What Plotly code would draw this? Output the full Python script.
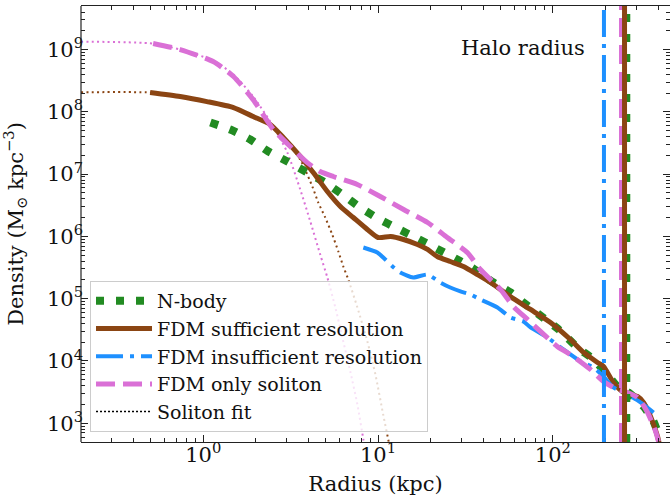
import plotly.graph_objects as go

# ---------------- data ----------------
nbody_r = [1.10, 1.43, 1.86, 2.36, 3.03, 3.94, 4.99, 6.25, 7.92, 10.0, 12.9, 16.8, 21.6, 27.7,
           35.1, 45.7, 57.2, 72.5, 90.7, 108, 138, 171, 205, 234, 271, 330, 372, 397]
nbody_rho = [6.73e7, 5.20e7, 3.59e7, 2.31e7, 1.59e7, 1.06e7, 7.33e6, 4.71e6, 2.91e6, 1.94e6,
             1.34e6, 9.25e5, 6.39e5, 4.42e5, 3.05e5, 1.82e5, 1.26e5, 7.50e4, 4.64e4, 3.2e4,
             1.65e4, 1.06e4, 6.07e3, 3.90e3, 3.12e3, 1.86e3, 1.15e3, 738]

suff_r = [0.497, 0.738, 1.05, 1.49, 1.93, 2.42, 2.87, 3.59, 4.26, 5.13, 6.09, 7.22, 8.69, 10.0,
          11.8, 14.0, 16.8, 19.2, 21.8, 25.9, 30.8, 37.0, 44.0, 57.2, 74.5, 96.9, 126, 150,
          180, 195, 222, 254, 305, 330, 362, 397, 407]
suff_rho = [2.04e8, 1.76e8, 1.46e8, 1.17e8, 8.41e7, 6.25e7, 3.87e7, 1.92e7, 1.06e7, 5.26e6,
            3.02e6, 2.01e6, 1.29e6, 9.60e5, 9.95e5, 8.91e5, 7.41e5, 6.17e5, 4.75e5, 3.95e5,
            3.29e5, 2.44e5, 1.82e5, 1.08e5, 6.71e4, 4.15e4, 2.21e4, 1.37e4, 9.46e3, 8.16e3,
            4.52e3, 3.12e3, 2.69e3, 2.16e3, 1.29e3, 614, 457]

insuff_r = [8.24, 9.91, 11.0, 12.1, 13.4, 15.9, 19.2, 22.7, 25.9, 29.6, 33.7, 38.5, 48.2, 57.2,
            67.9, 74.5, 93.1, 115, 144, 171, 195, 222, 267, 317, 377]
insuff_rho = [6.64e5, 5.52e5, 4.26e5, 3.29e5, 2.64e5, 2.19e5, 2.44e5, 1.82e5, 1.51e5, 1.31e5,
              1.17e5, 9.70e4, 7.22e4, 4.99e4, 4.30e4, 3.45e4, 2.38e4, 1.53e4, 9.82e3, 7.87e3,
              5.64e3, 3.76e3, 2.90e3, 2.16e3, 1.49e3]

solonly_r = [0.517, 0.738, 1.14, 1.49, 1.93, 2.52, 3.15, 3.94, 4.67, 5.55, 7.61, 10.3, 14.0,
             19.2, 24.9, 32.4, 38.5, 50.1, 59.5, 71.6, 84.9, 106, 131, 164, 195, 234, 267,
             305, 348, 387, 402]
solonly_rho = [1.25e9, 1.0e9, 6.41e8, 3.69e8, 1.57e8, 5.20e7, 2.77e7, 1.53e7, 1.10e7, 9.15e6,
               6.81e6, 4.37e6, 2.70e6, 1.67e6, 9.60e5, 5.52e5, 2.94e5, 1.41e5, 7.50e4, 4.64e4,
               2.98e4, 1.71e4, 1.18e4, 7.31e3, 4.69e3, 3.49e3, 3.12e3, 2.59e3, 1.49e3, 738, 510]

fit_solonly_r = [0.2, 0.517, 0.738, 1.14, 1.49, 1.93, 2.52, 3.03, 3.59, 4.10, 4.67, 5.13, 5.70,
                 6.25, 6.94, 7.62, 8.24, 8.46]
fit_solonly_rho = [1.34e9, 1.25e9, 1.0e9, 6.66e8, 3.97e8, 1.76e8, 5.81e7, 2.22e7, 5.66e6,
                   1.73e6, 5.12e5, 2.19e5, 7.22e4, 2.38e4, 6.78e3, 2.00e3, 550, 352]

fit_suff_r = [0.2, 0.497, 0.738, 1.05, 1.49, 1.93, 2.42, 2.87, 3.59, 4.21, 4.55, 4.99, 5.47,
              5.93, 6.33, 6.76, 7.62, 8.69, 9.66, 10.7, 11.5, 11.8]
fit_suff_rho = [2.06e8, 2.04e8, 1.76e8, 1.46e8, 1.17e8, 8.41e7, 6.25e7, 3.87e7, 1.71e7, 6.32e6,
                3.50e6, 2.01e6, 1.07e6, 5.72e5, 3.29e5, 2.03e5, 7.22e4, 2.06e4, 6.07e3,
                1.38e3, 510, 352]

# halo radii (kpc)
halo_nbody = 263
halo_suff = 257
halo_insuff = 196
halo_solonly = 247

labels = ["N-body", "FDM sufficient resolution", "FDM insufficient resolution",
          "FDM only soliton", "Soliton fit"]

x_tickvals = [1, 10, 100]
x_ticktext = ["10<sup>0</sup>", "10<sup>1</sup>", "10<sup>2</sup>"]
y_tickvals = [1e3, 1e4, 1e5, 1e6, 1e7, 1e8, 1e9]
y_ticktext = ["10<sup>3</sup>", "10<sup>4</sup>", "10<sup>5</sup>", "10<sup>6</sup>",
              "10<sup>7</sup>", "10<sup>8</sup>", "10<sup>9</sup>"]

# ---------------- styles ----------------
GREEN = "#228B22"
BROWN = "#8B4513"
BLUE = "#1E90FF"
PINK = "#DA70D6"
AX = "#222222"
FONT = "DejaVu Serif"

st_nbody = dict(color=GREEN, width=8, dash="8px,12px")
st_suff = dict(color=BROWN, width=5)
st_insuff = dict(color=BLUE, width=4, dash="27px,7px,4px,7px")
st_solonly = dict(color=PINK, width=5, dash="19px,8px")
st_fit = dict(width=2, dash="2px,3.3px")

SM = dict(shape="spline", smoothing=0.6)

fig = go.Figure()

# soliton fits (drawn first, underneath)
fig.add_trace(go.Scatter(x=fit_solonly_r, y=fit_solonly_rho, mode="lines",
                         line=dict(color=PINK, **st_fit, **SM), showlegend=False,
                         hoverinfo="skip"))
fig.add_trace(go.Scatter(x=fit_suff_r, y=fit_suff_rho, mode="lines",
                         line=dict(color=BROWN, **st_fit, **SM), showlegend=False,
                         hoverinfo="skip"))

fig.add_trace(go.Scatter(x=nbody_r, y=nbody_rho, mode="lines", name=labels[0],
                         line=dict(**st_nbody, **SM), legendrank=1))
fig.add_trace(go.Scatter(x=suff_r, y=suff_rho, mode="lines", name=labels[1],
                         line=dict(**st_suff, **SM), legendrank=2))
fig.add_trace(go.Scatter(x=insuff_r, y=insuff_rho, mode="lines", name=labels[2],
                         line=dict(**st_insuff, **SM), legendrank=3))
fig.add_trace(go.Scatter(x=solonly_r, y=solonly_rho, mode="lines", name=labels[3],
                         line=dict(**st_solonly, **SM), legendrank=4))
# legend entry for soliton fit
fig.add_trace(go.Scatter(x=[None], y=[None], mode="lines", name=labels[4],
                         line=dict(color="black", width=1.5, dash="2px,2px"), legendrank=5))

# halo radius vertical lines
for hx, st in [(halo_nbody, st_nbody), (halo_solonly, st_solonly),
               (halo_insuff, st_insuff), (halo_suff, st_suff)]:
    fig.add_shape(type="line", xref="x", yref="paper", x0=hx, x1=hx, y0=0, y1=1,
                  line=st, layer="above")

# left spine only (right spine lies outside the picture in the reference)
fig.add_shape(type="line", xref="paper", yref="paper", x0=0, x1=0, y0=0, y1=1,
              line=dict(color=AX, width=1.2), layer="above")

fig.add_annotation(text="Halo radius", xref="paper", yref="paper", x=0.75, y=0.904,
                   xanchor="center", yanchor="middle",
                   showarrow=False, font=dict(family=FONT, size=21, color="#111"))

minor_x = [m * 10 ** e for e in range(-1, 3) for m in range(2, 10)]
minor_y = [m * 10 ** e for e in range(2, 10) for m in range(2, 10)]

axis_common = dict(type="log", showgrid=False, zeroline=False,
                   linecolor=AX, linewidth=1.2, mirror="allticks", ticks="inside",
                   ticklen=7, tickwidth=1.2, tickcolor=AX,
                   tickfont=dict(family=FONT, size=21, color="#111"))

fig.update_xaxes(**axis_common, showline=True, range=[-0.699, 2.67], tickmode="array",
                 tickvals=x_tickvals, ticktext=x_ticktext, ticklabelstandoff=-6,
                 minor=dict(tickmode="array", tickvals=minor_x, ticks="inside", ticklen=4,
                            tickwidth=1, tickcolor=AX, showgrid=False),
                 title=dict(text="Radius (kpc)", font=dict(family=FONT, size=21, color="#111"),
                            standoff=10))
fig.update_yaxes(**axis_common, showline=False, range=[2.699, 9.699], tickmode="array",
                 tickvals=y_tickvals, ticktext=y_ticktext, ticklabelstandoff=-3,
                 minor=dict(tickmode="array", tickvals=minor_y, ticks="inside", ticklen=4,
                            tickwidth=1, tickcolor=AX, showgrid=False),
                 title=dict(text="Density (M<sub>⊙</sub> kpc<sup>−3</sup>)",
                            font=dict(family=FONT, size=21, color="#111"), standoff=17))

fig.update_layout(
    width=670, height=496,
    margin=dict(l=81, r=0, t=6, b=54),
    plot_bgcolor="white", paper_bgcolor="white",
    font=dict(family=FONT, size=21, color="#111"),
    legend=dict(x=0.0153, y=0.023, xanchor="left", yanchor="bottom",
                bgcolor="rgba(255,255,255,0.8)", bordercolor="#cccccc", borderwidth=1,
                font=dict(family=FONT, size=19, color="#111"), itemwidth=56,
                traceorder="normal"),
)

fig.write_html("out.html")
